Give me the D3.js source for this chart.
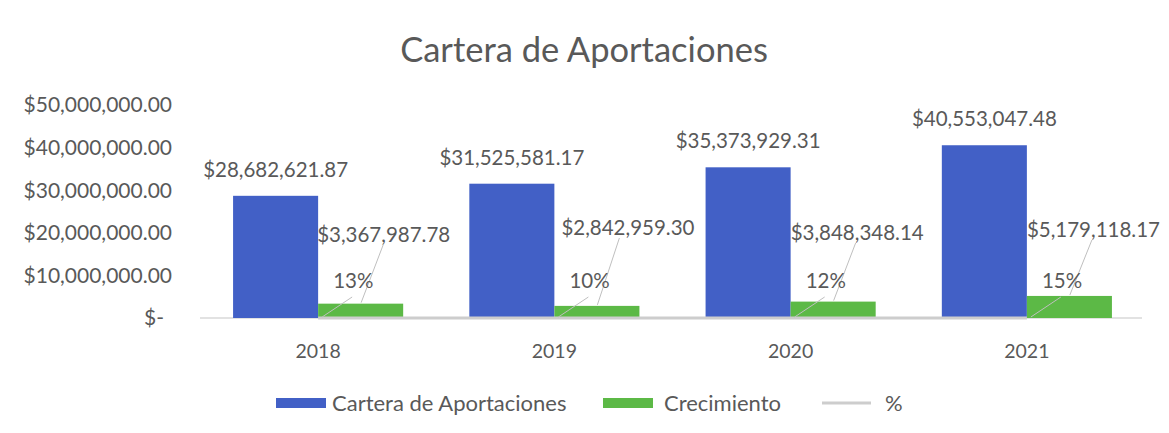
<!DOCTYPE html>
<html lang="es">
<head>
<meta charset="UTF-8">
<title>Cartera de Aportaciones</title>
<script src="https://d3js.org/d3.v7.min.js"></script>
<style>
    body { margin: 0; background: #fff; }
    svg { display: block; font-family: Lato, "Open Sans", sans-serif; }
    text { fill: #595959; }
</style>
</head>
<body>
<div id="chart"></div>
<script>
    // Data
    var years = ["2018", "2019", "2020", "2021"];
    var cartera = [28682621.87, 31525581.17, 35373929.31, 40553047.48];
    var crecimiento = [3367987.78, 2842959.30, 3848348.14, 5179118.17];
    var pct = [0.13, 0.10, 0.12, 0.15];
    var yTicks = [0, 10000000, 20000000, 30000000, 40000000, 50000000];
    var seriesNames = ["Cartera de Aportaciones", "Crecimiento", "%"];

    var W = 1169, H = 433;
    var blue = "#4260C6", green = "#5CB946", grey = "#CDCDCD";

    var svg = d3.select("#chart").append("svg")
        .attr("width", W).attr("height", H);

    var x = d3.scaleBand().domain(years).range([200, 1145])
        .paddingInner(0.28).paddingOuter(0.14);
    var x1 = d3.scaleBand().domain([0, 1]).range([0, x.bandwidth()]);
    var y = d3.scaleLinear().domain([0, 50000000]).range([318, 105]);

    var money = d3.format("$,.2f");

    // title
    svg.append("text")
        .attr("x", 584).attr("y", 62)
        .attr("text-anchor", "middle")
        .style("font-size", "34.5px")
        .text("Cartera de Aportaciones");

    // y axis labels (no line, no grid)
    svg.append("g").selectAll("text")
        .data(yTicks).join("text")
        .attr("x", function(d) { return d === 0 ? 164 : 172; })
        .attr("y", function(d) { return y(d); })
        .attr("dy", "0.35em")
        .attr("text-anchor", "end")
        .style("font-size", "21px")
        .text(function(d) { return d === 0 ? "$-" : money(d); });

    // baseline
    svg.append("line")
        .attr("x1", 200).attr("x2", 1142)
        .attr("y1", y(0)).attr("y2", y(0))
        .attr("stroke", "#D9D9D9").attr("stroke-width", 1.5);

    // bars
    var g = svg.append("g");
    g.selectAll(".cartera")
        .data(years).join("rect")
        .attr("class", "cartera")
        .attr("x", function(d) { return x(d) + x1(0); })
        .attr("width", x1.bandwidth())
        .attr("y", function(d, i) { return y(cartera[i]); })
        .attr("height", function(d, i) { return y(0) - y(cartera[i]); })
        .attr("fill", blue);

    g.selectAll(".crec")
        .data(years).join("rect")
        .attr("class", "crec")
        .attr("x", function(d) { return x(d) + x1(1); })
        .attr("width", x1.bandwidth())
        .attr("y", function(d, i) { return y(crecimiento[i]); })
        .attr("height", function(d, i) { return y(0) - y(crecimiento[i]); })
        .attr("fill", green);

    // % line (tiny values on the same axis, sits on the baseline)
    var cx = function(d) { return x(d) + x.bandwidth() / 2; };
    var line = d3.line()
        .x(function(d, i) { return cx(years[i]); })
        .y(function(d) { return y(d); });
    svg.append("path")
        .datum(pct)
        .attr("d", line)
        .attr("fill", "none")
        .attr("stroke", grey)
        .attr("stroke-width", 3);

    // labels above blue bars
    svg.append("g").selectAll("text")
        .data(years).join("text")
        .attr("x", function(d) { return x(d) + x1(0) + x1.bandwidth() / 2; })
        .attr("y", function(d, i) { return y(cartera[i]) - 19; })
        .attr("text-anchor", "middle")
        .style("font-size", "20.5px")
        .text(function(d, i) { return money(cartera[i]); });

    // crecimiento labels with leader lines
    var labBase = [242, 235, 240, 237];
    var labDx = [-1, 7, 0, 0];
    var lab = svg.append("g");
    years.forEach(function(d, i) {
        var bx = x(d) + x1(1);
        var ly = labBase[i];
        lab.append("line")
            .attr("x1", bx + 65).attr("y1", ly + 3)
            .attr("x2", bx + 43).attr("y2", y(crecimiento[i]) - 1)
            .attr("stroke", "#BFBFBF").attr("stroke-width", 1);
        lab.append("text")
            .attr("x", bx + labDx[i]).attr("y", ly)
            .style("font-size", "20.5px")
            .text(money(crecimiento[i]));

        // % labels
        var px = cx(d);
        lab.append("line")
            .attr("x1", px + 34).attr("y1", 297)
            .attr("x2", px + 4).attr("y2", y(pct[i]) - 1)
            .attr("stroke", "#BFBFBF").attr("stroke-width", 1);
        lab.append("text")
            .attr("x", px + 15).attr("y", 288)
            .style("font-size", "20.5px")
            .text(d3.format(".0%")(pct[i]));
    });

    // x axis labels
    svg.append("g").selectAll("text")
        .data(years).join("text")
        .attr("x", cx)
        .attr("y", 358)
        .attr("text-anchor", "middle")
        .style("font-size", "19.5px")
        .text(function(d) { return d; });

    // legend
    var legend = svg.append("g").attr("transform", "translate(0,403)");
    var items = [
        { name: seriesNames[0], x: 276, dx: 56, type: "rect", color: blue },
        { name: seriesNames[1], x: 603, dx: 61, type: "rect", color: green },
        { name: seriesNames[2], x: 822, dx: 63, type: "line", color: grey }
    ];
    items.forEach(function(it) {
        if (it.type === "rect") {
            legend.append("rect")
                .attr("x", it.x).attr("y", -5)
                .attr("width", 50).attr("height", 10)
                .attr("fill", it.color);
        } else {
            legend.append("line")
                .attr("x1", it.x).attr("x2", it.x + 49)
                .attr("y1", 0).attr("y2", 0)
                .attr("stroke", it.color).attr("stroke-width", 3);
        }
        legend.append("text")
            .attr("x", it.x + it.dx)
            .attr("y", 0).attr("dy", "0.35em")
            .style("font-size", "22px")
            .text(it.name);
    });
</script>
</body>
</html>
